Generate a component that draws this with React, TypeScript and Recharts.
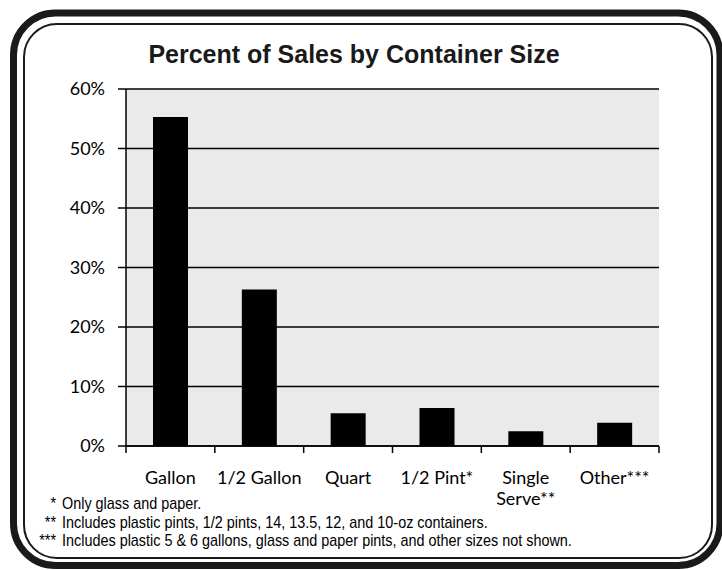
import { BarChart, Bar, XAxis, YAxis, CartesianGrid } from "recharts";

// values (percent of sales)
const sizes = ["Gallon", "1/2 Gallon", "Quart", "1/2 Pint*", "Single\nServe**", "Other***"];
const shares = [55.3, 26.3, 5.5, 6.4, 2.5, 3.9];
const yTicks = [0, 10, 20, 30, 40, 50, 60];
const notes = [
  ["*", "Only glass and paper."],
  ["**", "Includes plastic pints, 1/2 pints, 14, 13.5, 12, and 10-oz containers."],
  ["***", "Includes plastic 5 & 6 gallons, glass and paper pints, and other sizes not shown."],
];

const data = sizes.map((name, i) => ({ name, value: shares[i] }));

// category label plus tick marks on the slot boundaries (Excel style)
const CatTick = (props: any) => {
  const { x, y, payload, index, visibleTicksCount } = props;
  const half = payload?.offset ?? 0;
  const lines = String(payload.value).split("\n");
  return (
    <g>
      <line x1={x - half} x2={x - half} y1={y} y2={y + 7} stroke="#000" strokeWidth={1.5} />
      {index === visibleTicksCount - 1 && (
        <line x1={x + half} x2={x + half} y1={y} y2={y + 7} stroke="#000" strokeWidth={1.5} />
      )}
      <text x={x} y={y} textAnchor="middle" fontFamily="Lato" fontSize={18} fill="#000">
        {lines.map((l, i) => (
          <tspan key={i} x={x} dy={i === 0 ? 38 : 21}>
            {l}
          </tspan>
        ))}
      </text>
    </g>
  );
};

export default function App() {
  return (
    <div style={{ position: "absolute", left: 0, top: 0, width: 722, height: 570, background: "#fff", overflow: "hidden" }}>
      <BarChart
        width={722}
        height={570}
        data={data}
        margin={{ top: 89, right: 63, left: 66, bottom: 74 }}
      >
        <CartesianGrid vertical={false} stroke="#000" strokeWidth={1.5} fill="#eaeaea" fillOpacity={1} />
        <XAxis
          dataKey="name"
          interval={0}
          height={50}
          tickSize={0}
          tickMargin={0}
          axisLine={{ stroke: "#000", strokeWidth: 1.5 }}
          tickLine={false}
          tick={<CatTick />}
        />
        <YAxis
          domain={[0, 60]}
          ticks={yTicks}
          width={60}
          tickSize={8}
          tickMargin={13}
          tickFormatter={(v) => `${v}%`}
          tick={{ fill: "#000", fontFamily: "Lato", fontSize: 18 }}
          axisLine={{ stroke: "#000", strokeWidth: 1.5 }}
          tickLine={{ stroke: "#000", strokeWidth: 1.5 }}
        />
        <Bar dataKey="value" fill="#000" barSize={35} isAnimationActive={false} />
      </BarChart>

      <svg width={722} height={570} style={{ position: "absolute", left: 0, top: 0, pointerEvents: "none" }}>
        <rect x={13.5} y={13} width={706.5} height={552.5} rx={42} ry={42} fill="none" stroke="#1a1a1a" strokeWidth={7} />
        <rect x={24} y={24} width={688} height={534} rx={33} ry={33} fill="none" stroke="#1a1a1a" strokeWidth={2} />
        <text x={354} y={63} textAnchor="middle" fontFamily="Liberation Sans" fontWeight="bold" fontSize={25} fill="#1a1a1a">
          Percent of Sales by Container Size
        </text>
        {notes.map(([mark, text], i) => (
          <g key={i} transform={`translate(0, ${509 + i * 18.5})`} fontFamily="Liberation Sans" fontSize={16} fill="#000">
            <g transform="translate(56, 0) scale(0.9, 1)">
              <text x={0} y={0} textAnchor="end">{mark}</text>
            </g>
            <g transform="translate(62, 0) scale(0.9, 1)">
              <text x={0} y={0}>{text}</text>
            </g>
          </g>
        ))}
      </svg>
    </div>
  );
}
